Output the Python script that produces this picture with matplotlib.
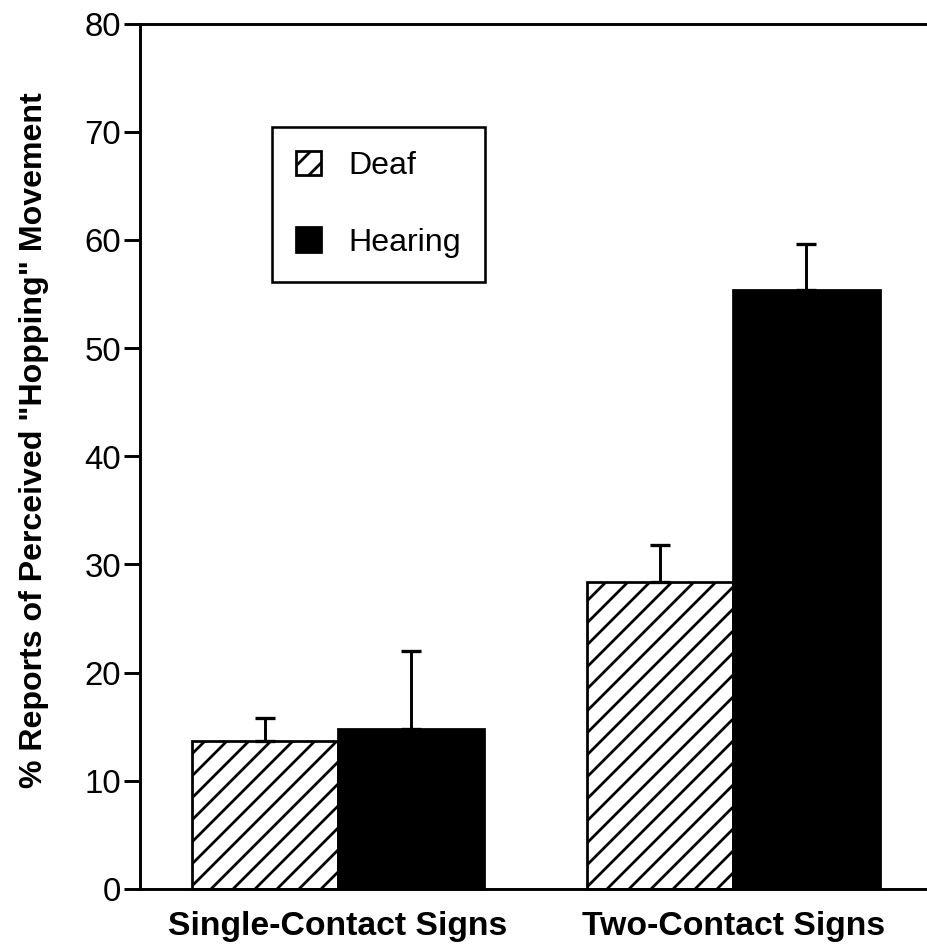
import matplotlib
matplotlib.use('Agg')
import numpy as np
import matplotlib.pyplot as plt

# data
groups = ['Single-Contact Signs', 'Two-Contact Signs']
deaf = [13.7, 28.4]
deaf_err = [2.1, 3.4]
hearing = [14.8, 55.4]
hearing_err = [7.2, 4.2]
yticks = [0, 10, 20, 30, 40, 50, 60, 70, 80]

plt.rcParams['font.family'] = ['Liberation Sans', 'DejaVu Sans']
plt.rcParams['hatch.linewidth'] = 1.5
plt.rcParams['hatch.color'] = 'black'

DPI = 132
fig = plt.figure(figsize=((927 + 0.4) / DPI, (952 + 0.4) / DPI), dpi=DPI)
ax = fig.add_axes([0.151, 0.0662, 0.849, 0.9086])

x = np.arange(len(groups))
w = 0.37

# bars
b1 = ax.bar(x - w / 2, deaf, w, color='white', edgecolor='black', hatch='//',
            linewidth=1.5, label='Deaf')
b2 = ax.bar(x + w / 2, hearing, w, color='black', edgecolor='black',
            linewidth=1.5, label='Hearing')

# upper error bars only
ax.errorbar(x - w / 2, deaf, yerr=[np.zeros(len(deaf)), deaf_err], fmt='none',
            ecolor='black', elinewidth=1.6, capsize=5.5, capthick=1.8)
ax.errorbar(x + w / 2, hearing, yerr=[np.zeros(len(hearing)), hearing_err], fmt='none',
            ecolor='black', elinewidth=1.6, capsize=5.5, capthick=1.8)

ax.set_xlim(-0.501, 1.491)
ax.set_ylim(0, 80)
ax.set_yticks(yticks)
ax.set_xticks(x, groups, fontsize=18.4, fontweight='bold')

ax.spines['right'].set_visible(False)
for s in ['left', 'top', 'bottom']:
    ax.spines[s].set_linewidth(1.6)

ax.tick_params(axis='y', length=8.7, width=1.6, pad=1.6, labelsize=18)
ax.tick_params(axis='x', length=0, pad=12)

ax.set_ylabel('% Reports of Perceived "Hopping" Movement', fontsize=17.5, fontweight='bold')
ax.yaxis.set_label_coords(-0.115, 0.519)

leg = ax.legend(handles=[b1, b2], loc='upper left',
                bbox_to_anchor=(272 / 927, 1 - 127 / 952), bbox_transform=fig.transFigure,
                fontsize=17.5, frameon=True, fancybox=False, edgecolor='black', framealpha=1,
                handlelength=0.78, handleheight=0.78, handletextpad=0.85,
                labelspacing=1.45, borderpad=0.75, borderaxespad=0)
leg.get_frame().set_linewidth(1.4)

fig.savefig('out.png', dpi=DPI)
